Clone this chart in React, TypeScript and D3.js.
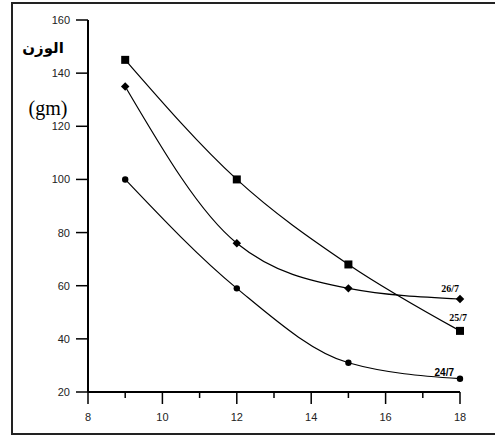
import { useEffect, useRef } from 'react';
import * as d3 from 'd3';

const days = [9, 12, 15, 18];
const series25 = [145, 100, 68, 43];
const series26 = [135, 76, 59, 55];
const series24 = [100, 59, 31, 25];
const xTicks = [8, 10, 12, 14, 16, 18];
const xMinor = [9, 11, 13, 15, 17];
const yTicks = [20, 40, 60, 80, 100, 120, 140, 160];

const App = () => {
  const svgRef = useRef<SVGSVGElement>(null);

  useEffect(() => {
    const svg = d3.select(svgRef.current);
    svg.selectAll('*').remove();

    // frame
    svg.append('rect')
      .attr('x', 12).attr('y', 3)
      .attr('width', 500).attr('height', 431)
      .attr('fill', 'none').attr('stroke', '#222').attr('stroke-width', 2);

    const x = d3.scaleLinear().domain([8, 18]).range([88, 460]);
    const y = d3.scaleLinear().domain([20, 160]).range([392, 20]);

    const g = svg.append('g');

    // y axis
    g.append('line')
      .attr('x1', x(8)).attr('x2', x(8))
      .attr('y1', y(160)).attr('y2', y(20))
      .attr('stroke', '#000').attr('stroke-width', 2);
    yTicks.forEach(t => {
      g.append('line')
        .attr('x1', x(8) - 12).attr('x2', x(8))
        .attr('y1', y(t)).attr('y2', y(t))
        .attr('stroke', '#000').attr('stroke-width', 1.5);
      g.append('text')
        .attr('x', x(8) - 18).attr('y', y(t) + 4)
        .attr('text-anchor', 'end')
        .style('font-family', '"Liberation Sans", Arial, sans-serif')
        .style('font-size', '11px')
        .style('fill', '#222')
        .text(t);
    });

    // x axis
    g.append('line')
      .attr('x1', x(8)).attr('x2', x(18))
      .attr('y1', y(20)).attr('y2', y(20))
      .attr('stroke', '#000').attr('stroke-width', 2);
    xTicks.forEach(t => {
      g.append('line')
        .attr('x1', x(t)).attr('x2', x(t))
        .attr('y1', y(20)).attr('y2', y(20) + 12)
        .attr('stroke', '#000').attr('stroke-width', 1.5);
      g.append('text')
        .attr('x', x(t)).attr('y', y(20) + 29)
        .attr('text-anchor', 'middle')
        .style('font-family', '"Liberation Sans", Arial, sans-serif')
        .style('font-size', '11px')
        .style('fill', '#222')
        .text(t);
    });
    xMinor.forEach(t => {
      g.append('line')
        .attr('x1', x(t)).attr('x2', x(t))
        .attr('y1', y(20)).attr('y2', y(20) + 6)
        .attr('stroke', '#000').attr('stroke-width', 1.5);
    });

    const line = d3.line<number>()
      .x((_, i) => x(days[i]))
      .y(d => y(d))
      .curve(d3.curveMonotoneX);

    [series25, series26, series24].forEach(s => {
      g.append('path')
        .attr('d', line(s))
        .attr('fill', 'none')
        .attr('stroke', '#000')
        .attr('stroke-width', 1.2);
    });

    // markers
    series25.forEach((v, i) => {
      g.append('rect')
        .attr('x', x(days[i]) - 4).attr('y', y(v) - 4)
        .attr('width', 8).attr('height', 8)
        .attr('fill', '#000');
    });
    series26.forEach((v, i) => {
      g.append('rect')
        .attr('x', -3).attr('y', -3)
        .attr('width', 6).attr('height', 6)
        .attr('transform', `translate(${x(days[i])},${y(v)}) rotate(45)`)
        .attr('fill', '#000');
    });
    series24.forEach((v, i) => {
      g.append('circle')
        .attr('cx', x(days[i])).attr('cy', y(v))
        .attr('r', 3.2).attr('fill', '#000');
    });

    // series labels
    const labels = [
      { text: '26/7', v: series26[3], dx: -1, dy: -7, font: '"Liberation Serif", "Times New Roman", serif' },
      { text: '25/7', v: series25[3], dx: 7, dy: -10, font: '"Liberation Serif", "Times New Roman", serif' },
      { text: '24/7', v: series24[3], dx: -6, dy: -3, font: '"Liberation Sans", Arial, sans-serif' },
    ];
    labels.forEach(l => {
      g.append('text')
        .attr('x', x(18) + l.dx).attr('y', y(l.v) + l.dy)
        .attr('text-anchor', 'end')
        .style('font-family', l.font)
        .style('font-size', '10px')
        .style('font-weight', 'bold')
        .text(l.text);
    });

    // y title
    g.append('text')
      .attr('x', 43).attr('y', 53)
      .attr('text-anchor', 'middle')
      .style('font-family', '"DejaVu Sans", "Noto Sans", sans-serif')
      .style('font-size', '15px')
      .style('font-weight', 'bold')
      .text('الوزن');
    g.append('text')
      .attr('x', 48).attr('y', 115)
      .attr('text-anchor', 'middle')
      .style('font-family', '"Liberation Serif", "Times New Roman", serif')
      .style('font-size', '20px')
      .text('(gm)');
  }, []);

  return (
    <svg ref={svgRef} width={495} height={436}
      style={{ position: 'absolute', left: 0, top: 0, background: '#fff' }} />
  );
};

export default App;
